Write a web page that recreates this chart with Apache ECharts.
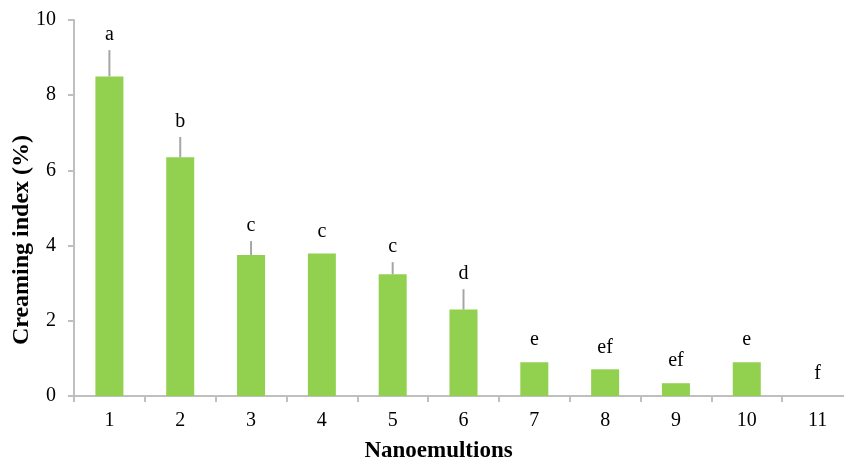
<!DOCTYPE html>
<html>
<head>
<meta charset="utf-8">
<script src="https://cdn.jsdelivr.net/npm/echarts@6/dist/echarts.min.js"></script>
<style>
  html, body { margin: 0; padding: 0; background: #fff; }
  #chart { width: 844px; height: 463px; }
</style>
</head>
<body>
<div id="chart"></div>
<script>
// data
var categories = ['1', '2', '3', '4', '5', '6', '7', '8', '9', '10', '11'];
var creaming = [8.50, 6.35, 3.75, 3.79, 3.24, 2.30, 0.90, 0.71, 0.34, 0.90, 0];
var errors = [0.70, 0.54, 0.37, 0, 0.32, 0.54, 0, 0, 0, 0, 0];
var letters = ['a', 'b', 'c', 'c', 'c', 'd', 'e', 'ef', 'ef', 'e', 'f'];

var serif = '"Liberation Serif", "Times New Roman", serif';

var chart = echarts.init(document.getElementById('chart'));

var errData = creaming.map(function (v, i) {
  return [i, v, errors[i]];
});

chart.setOption({
  animation: false,
  backgroundColor: '#fff',
  grid: {
    left: 74,
    top: 20,
    width: 779,
    height: 376,
    containLabel: false,
    outerBoundsMode: 'none'
  },
  xAxis: {
    type: 'category',
    data: categories,
    boundaryGap: true,
    name: 'Nanoemultions',
    nameLocation: 'middle',
    nameGap: 44,
    nameTextStyle: {
      fontFamily: serif,
      fontWeight: 'bold',
      fontSize: 23,
      color: '#000',
      padding: [0, 50, 0, 0]
    },
    axisLine: { lineStyle: { color: '#BFBFBF', width: 2 } },
    axisTick: { show: true, length: 6, lineStyle: { color: '#BFBFBF', width: 2 } },
    axisLabel: { fontFamily: serif, fontSize: 20, color: '#000', margin: 15 }
  },
  yAxis: {
    type: 'value',
    min: 0,
    max: 10,
    interval: 2,
    axisLine: { show: true, lineStyle: { color: '#BFBFBF', width: 2 } },
    axisTick: { show: true, length: 6, lineStyle: { color: '#BFBFBF', width: 2 } },
    splitLine: { show: false },
    axisLabel: { fontFamily: serif, fontSize: 20, color: '#000', margin: 18 }
  },
  graphic: [{
    type: 'text',
    x: 22,
    y: 240,
    rotation: Math.PI / 2,
    style: {
      text: 'Creaming index (%)',
      fontFamily: serif,
      fontWeight: 'bold',
      fontSize: 24,
      fill: '#000',
      textAlign: 'center',
      textVerticalAlign: 'middle'
    }
  }],
  series: [{
    type: 'bar',
    data: creaming,
    barWidth: 28,
    itemStyle: { color: '#92D050' },
    z: 2
  }, {
    type: 'custom',
    data: errData,
    encode: { x: 0, y: 1 },
    z: 3,
    renderItem: function (params, api) {
      var i = api.value(0);
      var v = api.value(1);
      var e = api.value(2);
      var base = api.coord([i, v]);
      var top = api.coord([i, v + e]);
      var children = [];
      if (e > 0) {
        children.push({
          type: 'line',
          shape: { x1: base[0], y1: base[1], x2: top[0], y2: top[1] },
          style: { stroke: '#A6A6A6', lineWidth: 2 }
        });
      }
      children.push({
        type: 'text',
        x: top[0],
        y: top[1] - (e > 0 ? 15 : 22),
        style: {
          text: letters[params.dataIndex],
          fontFamily: serif,
          fontSize: 20,
          fill: '#000',
          textAlign: 'center',
          textVerticalAlign: 'middle'
        }
      });
      return { type: 'group', children: children };
    }
  }]
});
</script>
</body>
</html>
